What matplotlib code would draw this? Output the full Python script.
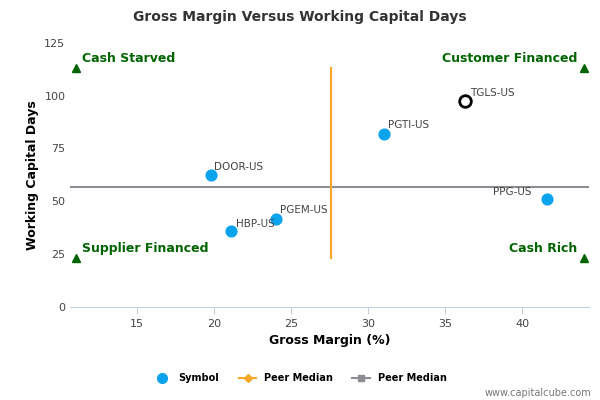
import matplotlib
matplotlib.use("Agg")
import matplotlib.pyplot as plt
from matplotlib.lines import Line2D

names = ["DOOR-US", "HBP-US", "PGEM-US", "PGTI-US", "PPG-US"]
gm = [19.8, 21.1, 24.0, 31.0, 41.6]
wcd = [62.5, 36.0, 41.5, 82.0, 51.0]
focus_name = "TGLS-US"; focus_gm = 36.3; focus_wcd = 97.5
median_gm = 27.6; median_wcd = 56.5
quad = [("Cash Starved", 11, 113, "left"), ("Customer Financed", 44, 113, "right"),
        ("Supplier Financed", 11, 23, "left"), ("Cash Rich", 44, 23, "right")]

fig = plt.figure(figsize=(6, 4), dpi=100)
ax = fig.add_axes([0.117, 0.233, 0.865, 0.66])
ax.set_xlim(10.65, 44.35); ax.set_ylim(0, 125)
ax.axhline(median_wcd, color="#8c8c94", lw=1.5)
ax.plot([median_gm, median_gm], [23, 113], color="#f7a627", lw=1.5)
ax.scatter(gm, wcd, s=60, color="#0aa3ee", zorder=3)
ax.scatter([focus_gm], [focus_wcd], s=70, facecolor="white", edgecolor="black", lw=2, zorder=4)
offs = {"PPG-US": (-1, 1, "right"), "HBP-US": (0.3, 1, "left"), "DOOR-US": (0.2, 1.5, "left"),
        "PGEM-US": (0.3, 2, "left"), "PGTI-US": (0.3, 1.5, "left")}
for n, x, y in zip(names, gm, wcd):
    dx, dy, ha = offs[n]
    ax.text(x + dx, y + dy, n, fontsize=7.5, color="#444444", ha=ha, va="bottom")
ax.text(focus_gm + 0.3, focus_wcd + 1.5, focus_name, fontsize=7.5, color="#444444", va="bottom")
for t, x, y, ha in quad:
    ax.plot([x], [y], marker="^", color="#006400", ms=6, ls="none")
    ax.text(x + (0.4 if ha == "left" else -0.4), y + 1.5, t, ha=ha, va="bottom",
            fontsize=9, fontweight="bold", color="#006400")
for s in ["top", "right", "left"]:
    ax.spines[s].set_visible(False)
ax.spines["bottom"].set_color("#c0d0e0")
ax.set_xticks([15, 20, 25, 30, 35, 40]); ax.set_yticks([0, 25, 50, 75, 100, 125])
ax.tick_params(labelsize=8, colors="#444444", length=0)
ax.tick_params(axis="x", length=5, color="#c0d0e0")
ax.set_xlabel("Gross Margin (%)", fontsize=9, fontweight="bold")
ax.set_ylabel("Working Capital Days", fontsize=9, fontweight="bold")
fig.suptitle("Gross Margin Versus Working Capital Days", y=0.975, fontsize=10, fontweight="bold", color="#333333")
h = [Line2D([], [], marker="o", color="#0aa3ee", ls="none", ms=7),
     Line2D([], [], marker="D", color="#f7a627", ms=4, lw=1.5),
     Line2D([], [], marker="s", color="#8c8c94", ms=5, lw=1.5)]
fig.legend(h, ["Symbol", "Peer Median", "Peer Median"], loc="lower center", bbox_to_anchor=(0.5, 0.02),
           ncol=3, frameon=False, prop={"size": 7, "weight": "bold"}, handlelength=1.8)
fig.text(0.985, 0.01, "www.capitalcube.com", ha="right", fontsize=7, color="#777777")
fig.savefig("out.png")
